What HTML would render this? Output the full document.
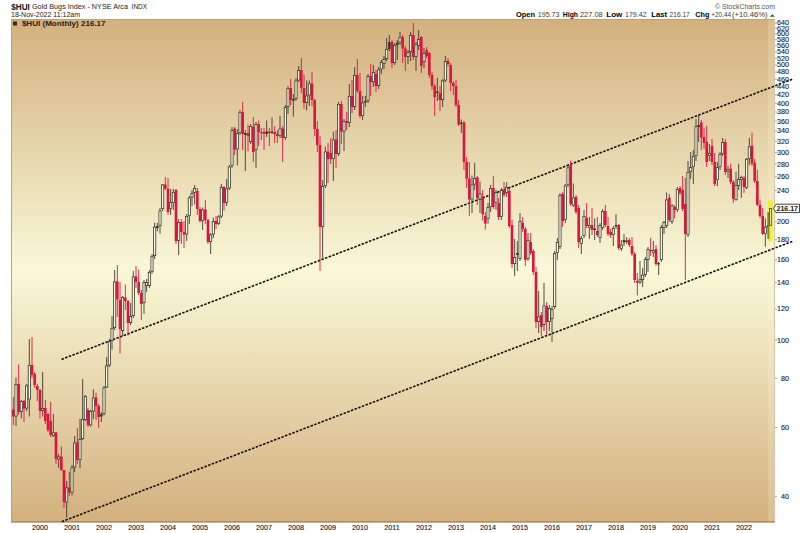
<!DOCTYPE html><html><head><meta charset="utf-8"><style>html,body{margin:0;padding:0;background:#fff;width:800px;height:533px;overflow:hidden}svg{display:block}text{font-family:"Liberation Sans",sans-serif}</style></head><body>
<svg width="800" height="533" viewBox="0 0 800 533">
<defs><linearGradient id="bg" x1="0" y1="0" x2="0" y2="1"><stop offset="0" stop-color="#D3B07E"/><stop offset="0.5" stop-color="#F9F8D7"/><stop offset="1" stop-color="#D3B07E"/></linearGradient></defs>
<rect x="0" y="0" width="800" height="533" fill="#fff"/>
<rect x="11" y="19" width="764" height="503.5" fill="url(#bg)"/>
<rect x="11.5" y="19.5" width="763" height="502.5" fill="none" stroke="#b4a488" stroke-width="1"/>
<line x1="11" y1="521.7" x2="775" y2="521.7" stroke="#b08c60" stroke-width="1.2"/>
<text x="11.3" y="9.6" font-size="9.2" font-weight="bold" textLength="18.5" lengthAdjust="spacingAndGlyphs" fill="#111">$HUI</text>
<text x="32" y="9.2" font-size="7.4" textLength="96" lengthAdjust="spacingAndGlyphs" fill="#222">Gold Bugs Index - NYSE Arca</text>
<text x="131.6" y="9.0" font-size="6.8" textLength="15.4" lengthAdjust="spacingAndGlyphs" fill="#222">INDX</text>
<text x="11" y="17.3" font-size="7" textLength="69" lengthAdjust="spacingAndGlyphs" fill="#222">18-Nov-2022 11:12am</text>
<text x="715" y="9.2" font-size="7" textLength="60" lengthAdjust="spacingAndGlyphs" fill="#555">© StockCharts.com</text>
<text x="515.9" y="17.4" font-size="7.9" font-weight="bold" textLength="19.1" lengthAdjust="spacingAndGlyphs" fill="#000">Open</text>
<text x="537.8" y="17.4" font-size="7.2"  textLength="21.6" lengthAdjust="spacingAndGlyphs" fill="#3a3a3a">195.73</text>
<text x="562.8" y="17.4" font-size="7.9" font-weight="bold" textLength="15.2" lengthAdjust="spacingAndGlyphs" fill="#000">High</text>
<text x="580" y="17.4" font-size="7.2"  textLength="22.6" lengthAdjust="spacingAndGlyphs" fill="#3a3a3a">227.08</text>
<text x="606.3" y="17.4" font-size="7.9" font-weight="bold" textLength="16.0" lengthAdjust="spacingAndGlyphs" fill="#000">Low</text>
<text x="625" y="17.4" font-size="7.2"  textLength="21.6" lengthAdjust="spacingAndGlyphs" fill="#3a3a3a">179.42</text>
<text x="651.3" y="17.4" font-size="7.9" font-weight="bold" textLength="15.9" lengthAdjust="spacingAndGlyphs" fill="#000">Last</text>
<text x="669.6" y="17.4" font-size="7.2"  textLength="20.1" lengthAdjust="spacingAndGlyphs" fill="#3a3a3a">216.17</text>
<text x="695.3" y="17.4" font-size="7.9" font-weight="bold" textLength="14.1" lengthAdjust="spacingAndGlyphs" fill="#000">Chg</text>
<text x="711.3" y="17.4" font-size="7.2"  textLength="19.7" lengthAdjust="spacingAndGlyphs" fill="#3a3a3a">+20.44</text>
<text x="732" y="17.4" font-size="7.2"  textLength="35.6" lengthAdjust="spacingAndGlyphs" fill="#3a3a3a">(+10.46%)</text>
<path d="M769.8 16.8 L772.3 14.3 L774.8 16.8 Z" fill="#1a6a1a"/>
<rect x="13" y="21.5" width="4" height="4" fill="#3a2a10"/>
<text x="21.9" y="26.1" font-size="8" font-weight="bold" textLength="83.7" lengthAdjust="spacingAndGlyphs" fill="#2a2010">$HUI (Monthly) 216.17</text>
<rect x="768" y="20" width="6.3" height="501.3" fill="#fffad0" opacity="0.2"/>
<line x1="775" y1="22.90" x2="777" y2="22.90" stroke="#777" stroke-width="0.7"/>
<text x="789" y="25.30" font-size="7.2" text-anchor="end" fill="#1a1a1a" stroke="#1a1a1a" stroke-width="0.12">640</text>
<line x1="775" y1="28.33" x2="777" y2="28.33" stroke="#777" stroke-width="0.7"/>
<text x="789" y="30.73" font-size="7.2" text-anchor="end" fill="#1a1a1a" stroke="#1a1a1a" stroke-width="0.12">620</text>
<line x1="775" y1="33.93" x2="777" y2="33.93" stroke="#777" stroke-width="0.7"/>
<text x="789" y="36.33" font-size="7.2" text-anchor="end" fill="#1a1a1a" stroke="#1a1a1a" stroke-width="0.12">600</text>
<line x1="775" y1="39.72" x2="777" y2="39.72" stroke="#777" stroke-width="0.7"/>
<text x="789" y="42.12" font-size="7.2" text-anchor="end" fill="#1a1a1a" stroke="#1a1a1a" stroke-width="0.12">580</text>
<line x1="775" y1="45.72" x2="777" y2="45.72" stroke="#777" stroke-width="0.7"/>
<text x="789" y="48.12" font-size="7.2" text-anchor="end" fill="#1a1a1a" stroke="#1a1a1a" stroke-width="0.12">560</text>
<line x1="775" y1="51.94" x2="777" y2="51.94" stroke="#777" stroke-width="0.7"/>
<text x="789" y="54.34" font-size="7.2" text-anchor="end" fill="#1a1a1a" stroke="#1a1a1a" stroke-width="0.12">540</text>
<line x1="775" y1="58.39" x2="777" y2="58.39" stroke="#777" stroke-width="0.7"/>
<text x="789" y="60.79" font-size="7.2" text-anchor="end" fill="#1a1a1a" stroke="#1a1a1a" stroke-width="0.12">520</text>
<line x1="775" y1="65.09" x2="777" y2="65.09" stroke="#777" stroke-width="0.7"/>
<text x="789" y="67.49" font-size="7.2" text-anchor="end" fill="#1a1a1a" stroke="#1a1a1a" stroke-width="0.12">500</text>
<line x1="775" y1="72.06" x2="777" y2="72.06" stroke="#777" stroke-width="0.7"/>
<text x="789" y="74.46" font-size="7.2" text-anchor="end" fill="#1a1a1a" stroke="#1a1a1a" stroke-width="0.12">480</text>
<line x1="775" y1="79.34" x2="777" y2="79.34" stroke="#777" stroke-width="0.7"/>
<text x="789" y="81.74" font-size="7.2" text-anchor="end" fill="#1a1a1a" stroke="#1a1a1a" stroke-width="0.12">460</text>
<line x1="775" y1="86.94" x2="777" y2="86.94" stroke="#777" stroke-width="0.7"/>
<text x="789" y="89.34" font-size="7.2" text-anchor="end" fill="#1a1a1a" stroke="#1a1a1a" stroke-width="0.12">440</text>
<line x1="775" y1="94.89" x2="777" y2="94.89" stroke="#777" stroke-width="0.7"/>
<text x="789" y="97.29" font-size="7.2" text-anchor="end" fill="#1a1a1a" stroke="#1a1a1a" stroke-width="0.12">420</text>
<line x1="775" y1="103.22" x2="777" y2="103.22" stroke="#777" stroke-width="0.7"/>
<text x="789" y="105.62" font-size="7.2" text-anchor="end" fill="#1a1a1a" stroke="#1a1a1a" stroke-width="0.12">400</text>
<line x1="775" y1="111.99" x2="777" y2="111.99" stroke="#777" stroke-width="0.7"/>
<text x="789" y="114.39" font-size="7.2" text-anchor="end" fill="#1a1a1a" stroke="#1a1a1a" stroke-width="0.12">380</text>
<line x1="775" y1="121.23" x2="777" y2="121.23" stroke="#777" stroke-width="0.7"/>
<text x="789" y="123.63" font-size="7.2" text-anchor="end" fill="#1a1a1a" stroke="#1a1a1a" stroke-width="0.12">360</text>
<line x1="775" y1="131.00" x2="777" y2="131.00" stroke="#777" stroke-width="0.7"/>
<text x="789" y="133.40" font-size="7.2" text-anchor="end" fill="#1a1a1a" stroke="#1a1a1a" stroke-width="0.12">340</text>
<line x1="775" y1="141.36" x2="777" y2="141.36" stroke="#777" stroke-width="0.7"/>
<text x="789" y="143.76" font-size="7.2" text-anchor="end" fill="#1a1a1a" stroke="#1a1a1a" stroke-width="0.12">320</text>
<line x1="775" y1="152.39" x2="777" y2="152.39" stroke="#777" stroke-width="0.7"/>
<text x="789" y="154.79" font-size="7.2" text-anchor="end" fill="#1a1a1a" stroke="#1a1a1a" stroke-width="0.12">300</text>
<line x1="775" y1="164.18" x2="777" y2="164.18" stroke="#777" stroke-width="0.7"/>
<text x="789" y="166.58" font-size="7.2" text-anchor="end" fill="#1a1a1a" stroke="#1a1a1a" stroke-width="0.12">280</text>
<line x1="775" y1="176.84" x2="777" y2="176.84" stroke="#777" stroke-width="0.7"/>
<text x="789" y="179.24" font-size="7.2" text-anchor="end" fill="#1a1a1a" stroke="#1a1a1a" stroke-width="0.12">260</text>
<line x1="775" y1="190.52" x2="777" y2="190.52" stroke="#777" stroke-width="0.7"/>
<text x="789" y="192.92" font-size="7.2" text-anchor="end" fill="#1a1a1a" stroke="#1a1a1a" stroke-width="0.12">240</text>
<line x1="775" y1="221.68" x2="777" y2="221.68" stroke="#777" stroke-width="0.7"/>
<text x="789" y="224.08" font-size="7.2" text-anchor="end" fill="#1a1a1a" stroke="#1a1a1a" stroke-width="0.12">200</text>
<line x1="775" y1="239.69" x2="777" y2="239.69" stroke="#777" stroke-width="0.7"/>
<text x="789" y="242.09" font-size="7.2" text-anchor="end" fill="#1a1a1a" stroke="#1a1a1a" stroke-width="0.12">180</text>
<line x1="775" y1="259.82" x2="777" y2="259.82" stroke="#777" stroke-width="0.7"/>
<text x="789" y="262.22" font-size="7.2" text-anchor="end" fill="#1a1a1a" stroke="#1a1a1a" stroke-width="0.12">160</text>
<line x1="775" y1="282.64" x2="777" y2="282.64" stroke="#777" stroke-width="0.7"/>
<text x="789" y="285.04" font-size="7.2" text-anchor="end" fill="#1a1a1a" stroke="#1a1a1a" stroke-width="0.12">140</text>
<line x1="775" y1="308.98" x2="777" y2="308.98" stroke="#777" stroke-width="0.7"/>
<text x="789" y="311.38" font-size="7.2" text-anchor="end" fill="#1a1a1a" stroke="#1a1a1a" stroke-width="0.12">120</text>
<line x1="775" y1="340.14" x2="777" y2="340.14" stroke="#777" stroke-width="0.7"/>
<text x="789" y="342.54" font-size="7.2" text-anchor="end" fill="#1a1a1a" stroke="#1a1a1a" stroke-width="0.12">100</text>
<line x1="775" y1="378.28" x2="777" y2="378.28" stroke="#777" stroke-width="0.7"/>
<text x="789" y="380.68" font-size="7.2" text-anchor="end" fill="#1a1a1a" stroke="#1a1a1a" stroke-width="0.12">80</text>
<line x1="775" y1="427.44" x2="777" y2="427.44" stroke="#777" stroke-width="0.7"/>
<text x="789" y="429.84" font-size="7.2" text-anchor="end" fill="#1a1a1a" stroke="#1a1a1a" stroke-width="0.12">60</text>
<line x1="775" y1="496.74" x2="777" y2="496.74" stroke="#777" stroke-width="0.7"/>
<text x="789" y="499.14" font-size="7.2" text-anchor="end" fill="#1a1a1a" stroke="#1a1a1a" stroke-width="0.12">40</text>
<text x="40.10" y="529.6" font-size="7.2" text-anchor="middle" fill="#1a1a1a" stroke="#1a1a1a" stroke-width="0.12">2000</text>
<text x="72.10" y="529.6" font-size="7.2" text-anchor="middle" fill="#1a1a1a" stroke="#1a1a1a" stroke-width="0.12">2001</text>
<text x="104.10" y="529.6" font-size="7.2" text-anchor="middle" fill="#1a1a1a" stroke="#1a1a1a" stroke-width="0.12">2002</text>
<text x="136.10" y="529.6" font-size="7.2" text-anchor="middle" fill="#1a1a1a" stroke="#1a1a1a" stroke-width="0.12">2003</text>
<text x="168.10" y="529.6" font-size="7.2" text-anchor="middle" fill="#1a1a1a" stroke="#1a1a1a" stroke-width="0.12">2004</text>
<text x="200.10" y="529.6" font-size="7.2" text-anchor="middle" fill="#1a1a1a" stroke="#1a1a1a" stroke-width="0.12">2005</text>
<text x="232.10" y="529.6" font-size="7.2" text-anchor="middle" fill="#1a1a1a" stroke="#1a1a1a" stroke-width="0.12">2006</text>
<text x="264.10" y="529.6" font-size="7.2" text-anchor="middle" fill="#1a1a1a" stroke="#1a1a1a" stroke-width="0.12">2007</text>
<text x="296.10" y="529.6" font-size="7.2" text-anchor="middle" fill="#1a1a1a" stroke="#1a1a1a" stroke-width="0.12">2008</text>
<text x="328.10" y="529.6" font-size="7.2" text-anchor="middle" fill="#1a1a1a" stroke="#1a1a1a" stroke-width="0.12">2009</text>
<text x="360.10" y="529.6" font-size="7.2" text-anchor="middle" fill="#1a1a1a" stroke="#1a1a1a" stroke-width="0.12">2010</text>
<text x="392.10" y="529.6" font-size="7.2" text-anchor="middle" fill="#1a1a1a" stroke="#1a1a1a" stroke-width="0.12">2011</text>
<text x="424.10" y="529.6" font-size="7.2" text-anchor="middle" fill="#1a1a1a" stroke="#1a1a1a" stroke-width="0.12">2012</text>
<text x="456.10" y="529.6" font-size="7.2" text-anchor="middle" fill="#1a1a1a" stroke="#1a1a1a" stroke-width="0.12">2013</text>
<text x="488.10" y="529.6" font-size="7.2" text-anchor="middle" fill="#1a1a1a" stroke="#1a1a1a" stroke-width="0.12">2014</text>
<text x="520.10" y="529.6" font-size="7.2" text-anchor="middle" fill="#1a1a1a" stroke="#1a1a1a" stroke-width="0.12">2015</text>
<text x="552.10" y="529.6" font-size="7.2" text-anchor="middle" fill="#1a1a1a" stroke="#1a1a1a" stroke-width="0.12">2016</text>
<text x="584.10" y="529.6" font-size="7.2" text-anchor="middle" fill="#1a1a1a" stroke="#1a1a1a" stroke-width="0.12">2017</text>
<text x="616.10" y="529.6" font-size="7.2" text-anchor="middle" fill="#1a1a1a" stroke="#1a1a1a" stroke-width="0.12">2018</text>
<text x="648.10" y="529.6" font-size="7.2" text-anchor="middle" fill="#1a1a1a" stroke="#1a1a1a" stroke-width="0.12">2019</text>
<text x="680.10" y="529.6" font-size="7.2" text-anchor="middle" fill="#1a1a1a" stroke="#1a1a1a" stroke-width="0.12">2020</text>
<text x="712.10" y="529.6" font-size="7.2" text-anchor="middle" fill="#1a1a1a" stroke="#1a1a1a" stroke-width="0.12">2021</text>
<text x="744.10" y="529.6" font-size="7.2" text-anchor="middle" fill="#1a1a1a" stroke="#1a1a1a" stroke-width="0.12">2022</text>
<line x1="61.75" y1="521.65" x2="792.3" y2="241.4" stroke="#141008" stroke-width="1.6" stroke-dasharray="2.5,1.42"/>
<line x1="61.5" y1="359.4" x2="792.3" y2="79.2" stroke="#141008" stroke-width="1.6" stroke-dasharray="2.5,1.42"/>
<line x1="13.33" y1="397" x2="13.33" y2="425" stroke="#DC143C" stroke-width="0.9"/>
<rect x="12.03" y="409.5" width="2.6" height="7.00" fill="#DC143C"/>
<line x1="16.00" y1="377.5" x2="16.00" y2="426" stroke="#3c3a2c" stroke-width="0.9"/>
<rect x="14.90" y="384.40" width="2.2" height="31.70" fill="#faf6e6" stroke="#3c3a2c" stroke-width="0.8"/>
<line x1="18.66" y1="364.5" x2="18.66" y2="415" stroke="#DC143C" stroke-width="0.9"/>
<rect x="17.36" y="384" width="2.6" height="28.00" fill="#DC143C"/>
<line x1="21.33" y1="400" x2="21.33" y2="418.5" stroke="#3c3a2c" stroke-width="0.9"/>
<rect x="20.23" y="401.40" width="2.2" height="10.20" fill="#faf6e6" stroke="#3c3a2c" stroke-width="0.8"/>
<line x1="24.00" y1="400" x2="24.00" y2="422" stroke="#DC143C" stroke-width="0.9"/>
<rect x="22.70" y="401" width="2.6" height="7.50" fill="#DC143C"/>
<line x1="26.66" y1="384" x2="26.66" y2="411" stroke="#3c3a2c" stroke-width="0.9"/>
<rect x="25.56" y="385.90" width="2.2" height="22.20" fill="#faf6e6" stroke="#3c3a2c" stroke-width="0.8"/>
<line x1="29.33" y1="339" x2="29.33" y2="416.5" stroke="#3c3a2c" stroke-width="0.9"/>
<rect x="28.23" y="365.40" width="2.2" height="33.70" fill="#faf6e6" stroke="#3c3a2c" stroke-width="0.8"/>
<line x1="32.00" y1="337" x2="32.00" y2="378" stroke="#DC143C" stroke-width="0.9"/>
<rect x="30.70" y="365" width="2.6" height="10.00" fill="#DC143C"/>
<line x1="34.66" y1="372" x2="34.66" y2="388" stroke="#DC143C" stroke-width="0.9"/>
<rect x="33.36" y="374" width="2.6" height="11.00" fill="#DC143C"/>
<line x1="37.33" y1="384" x2="37.33" y2="401" stroke="#DC143C" stroke-width="0.9"/>
<rect x="36.03" y="386" width="2.6" height="4.00" fill="#DC143C"/>
<line x1="40.00" y1="389" x2="40.00" y2="418.5" stroke="#DC143C" stroke-width="0.9"/>
<rect x="38.70" y="390" width="2.6" height="21.00" fill="#DC143C"/>
<line x1="42.66" y1="372" x2="42.66" y2="416.5" stroke="#3c3a2c" stroke-width="0.9"/>
<rect x="41.56" y="408.40" width="2.2" height="2.20" fill="#faf6e6" stroke="#3c3a2c" stroke-width="0.8"/>
<line x1="45.33" y1="400" x2="45.33" y2="424" stroke="#DC143C" stroke-width="0.9"/>
<rect x="44.03" y="408" width="2.6" height="13.00" fill="#DC143C"/>
<line x1="48.00" y1="413" x2="48.00" y2="432" stroke="#DC143C" stroke-width="0.9"/>
<rect x="46.70" y="414" width="2.6" height="16.00" fill="#DC143C"/>
<line x1="50.66" y1="402" x2="50.66" y2="437" stroke="#DC143C" stroke-width="0.9"/>
<rect x="49.36" y="421" width="2.6" height="14.00" fill="#DC143C"/>
<line x1="53.33" y1="414" x2="53.33" y2="437" stroke="#3c3a2c" stroke-width="0.9"/>
<rect x="52.23" y="432.90" width="2.2" height="2.70" fill="#faf6e6" stroke="#3c3a2c" stroke-width="0.8"/>
<line x1="56.00" y1="432" x2="56.00" y2="464" stroke="#DC143C" stroke-width="0.9"/>
<rect x="54.70" y="432.5" width="2.6" height="26.50" fill="#DC143C"/>
<line x1="58.66" y1="454" x2="58.66" y2="468" stroke="#3c3a2c" stroke-width="0.9"/>
<rect x="57.56" y="456.90" width="2.2" height="2.20" fill="#faf6e6" stroke="#3c3a2c" stroke-width="0.8"/>
<line x1="61.33" y1="446.5" x2="61.33" y2="471" stroke="#DC143C" stroke-width="0.9"/>
<rect x="60.03" y="456.5" width="2.6" height="13.50" fill="#DC143C"/>
<line x1="64.00" y1="470" x2="64.00" y2="508" stroke="#DC143C" stroke-width="0.9"/>
<rect x="62.70" y="470" width="2.6" height="32.00" fill="#DC143C"/>
<line x1="66.66" y1="481" x2="66.66" y2="517.5" stroke="#3c3a2c" stroke-width="0.9"/>
<rect x="65.56" y="487.90" width="2.2" height="14.20" fill="#faf6e6" stroke="#3c3a2c" stroke-width="0.8"/>
<line x1="69.33" y1="472" x2="69.33" y2="496" stroke="#DC143C" stroke-width="0.9"/>
<rect x="68.03" y="487.5" width="2.6" height="5.00" fill="#DC143C"/>
<line x1="72.00" y1="465" x2="72.00" y2="495.5" stroke="#3c3a2c" stroke-width="0.9"/>
<rect x="70.90" y="467.90" width="2.2" height="24.20" fill="#faf6e6" stroke="#3c3a2c" stroke-width="0.8"/>
<line x1="74.66" y1="436" x2="74.66" y2="472" stroke="#3c3a2c" stroke-width="0.9"/>
<rect x="73.56" y="442.90" width="2.2" height="24.20" fill="#faf6e6" stroke="#3c3a2c" stroke-width="0.8"/>
<line x1="77.33" y1="428" x2="77.33" y2="464" stroke="#DC143C" stroke-width="0.9"/>
<rect x="76.03" y="442.5" width="2.6" height="17.50" fill="#DC143C"/>
<line x1="80.00" y1="419" x2="80.00" y2="468" stroke="#3c3a2c" stroke-width="0.9"/>
<rect x="78.90" y="439.40" width="2.2" height="20.20" fill="#faf6e6" stroke="#3c3a2c" stroke-width="0.8"/>
<line x1="82.66" y1="379" x2="82.66" y2="440" stroke="#3c3a2c" stroke-width="0.9"/>
<rect x="81.56" y="419.40" width="2.2" height="19.20" fill="#faf6e6" stroke="#3c3a2c" stroke-width="0.8"/>
<line x1="85.33" y1="395" x2="85.33" y2="421" stroke="#3c3a2c" stroke-width="0.9"/>
<rect x="84.23" y="396.40" width="2.2" height="23.20" fill="#faf6e6" stroke="#3c3a2c" stroke-width="0.8"/>
<line x1="88.00" y1="408" x2="88.00" y2="427" stroke="#DC143C" stroke-width="0.9"/>
<rect x="86.70" y="410" width="2.6" height="15.00" fill="#DC143C"/>
<line x1="90.66" y1="410" x2="90.66" y2="426.6" stroke="#3c3a2c" stroke-width="0.9"/>
<rect x="89.56" y="411.40" width="2.2" height="13.60" fill="#faf6e6" stroke="#3c3a2c" stroke-width="0.8"/>
<line x1="93.33" y1="389.5" x2="93.33" y2="419" stroke="#3c3a2c" stroke-width="0.9"/>
<rect x="92.23" y="397.90" width="2.2" height="13.20" fill="#faf6e6" stroke="#3c3a2c" stroke-width="0.8"/>
<line x1="96.00" y1="392.5" x2="96.00" y2="420" stroke="#DC143C" stroke-width="0.9"/>
<rect x="94.70" y="397.5" width="2.6" height="8.50" fill="#DC143C"/>
<line x1="98.66" y1="404" x2="98.66" y2="428" stroke="#DC143C" stroke-width="0.9"/>
<rect x="97.36" y="406" width="2.6" height="11.00" fill="#DC143C"/>
<line x1="101.33" y1="412" x2="101.33" y2="422" stroke="#3c3a2c" stroke-width="0.9"/>
<rect x="100.03" y="414" width="2.6" height="2.50" fill="#3c3a2c"/>
<line x1="104.00" y1="386" x2="104.00" y2="415.5" stroke="#3c3a2c" stroke-width="0.9"/>
<rect x="102.90" y="387.90" width="2.2" height="25.70" fill="#faf6e6" stroke="#3c3a2c" stroke-width="0.8"/>
<line x1="106.66" y1="357" x2="106.66" y2="388" stroke="#3c3a2c" stroke-width="0.9"/>
<rect x="105.56" y="365.90" width="2.2" height="21.20" fill="#faf6e6" stroke="#3c3a2c" stroke-width="0.8"/>
<line x1="109.33" y1="339" x2="109.33" y2="367" stroke="#3c3a2c" stroke-width="0.9"/>
<rect x="108.23" y="341.40" width="2.2" height="23.70" fill="#faf6e6" stroke="#3c3a2c" stroke-width="0.8"/>
<line x1="112.00" y1="316" x2="112.00" y2="349.5" stroke="#3c3a2c" stroke-width="0.9"/>
<rect x="110.90" y="328.40" width="2.2" height="12.20" fill="#faf6e6" stroke="#3c3a2c" stroke-width="0.8"/>
<line x1="114.66" y1="270" x2="114.66" y2="330" stroke="#3c3a2c" stroke-width="0.9"/>
<rect x="113.56" y="281.90" width="2.2" height="45.70" fill="#faf6e6" stroke="#3c3a2c" stroke-width="0.8"/>
<line x1="117.33" y1="265" x2="117.33" y2="317" stroke="#DC143C" stroke-width="0.9"/>
<rect x="116.03" y="281.5" width="2.6" height="18.00" fill="#DC143C"/>
<line x1="120.00" y1="282" x2="120.00" y2="353.5" stroke="#DC143C" stroke-width="0.9"/>
<rect x="118.70" y="300" width="2.6" height="29.00" fill="#DC143C"/>
<line x1="122.66" y1="296" x2="122.66" y2="336" stroke="#3c3a2c" stroke-width="0.9"/>
<rect x="121.56" y="297.40" width="2.2" height="33.20" fill="#faf6e6" stroke="#3c3a2c" stroke-width="0.8"/>
<line x1="125.33" y1="284.5" x2="125.33" y2="310" stroke="#DC143C" stroke-width="0.9"/>
<rect x="124.03" y="297.5" width="2.6" height="3.50" fill="#DC143C"/>
<line x1="128.00" y1="300" x2="128.00" y2="335.5" stroke="#DC143C" stroke-width="0.9"/>
<rect x="126.70" y="301" width="2.6" height="22.00" fill="#DC143C"/>
<line x1="130.66" y1="303" x2="130.66" y2="325" stroke="#3c3a2c" stroke-width="0.9"/>
<rect x="129.56" y="316.40" width="2.2" height="6.20" fill="#faf6e6" stroke="#3c3a2c" stroke-width="0.8"/>
<line x1="133.33" y1="271" x2="133.33" y2="318" stroke="#3c3a2c" stroke-width="0.9"/>
<rect x="132.23" y="276.90" width="2.2" height="38.70" fill="#faf6e6" stroke="#3c3a2c" stroke-width="0.8"/>
<line x1="136.00" y1="266" x2="136.00" y2="288" stroke="#DC143C" stroke-width="0.9"/>
<rect x="134.70" y="276.5" width="2.6" height="5.50" fill="#DC143C"/>
<line x1="138.66" y1="269.5" x2="138.66" y2="295" stroke="#DC143C" stroke-width="0.9"/>
<rect x="137.36" y="282" width="2.6" height="11.00" fill="#DC143C"/>
<line x1="141.33" y1="290" x2="141.33" y2="320" stroke="#DC143C" stroke-width="0.9"/>
<rect x="140.03" y="293" width="2.6" height="11.00" fill="#DC143C"/>
<line x1="144.00" y1="280" x2="144.00" y2="314" stroke="#3c3a2c" stroke-width="0.9"/>
<rect x="142.90" y="282.40" width="2.2" height="20.20" fill="#faf6e6" stroke="#3c3a2c" stroke-width="0.8"/>
<line x1="146.67" y1="279" x2="146.67" y2="292" stroke="#3c3a2c" stroke-width="0.9"/>
<rect x="145.57" y="282.40" width="2.2" height="3.20" fill="#faf6e6" stroke="#3c3a2c" stroke-width="0.8"/>
<line x1="149.33" y1="270" x2="149.33" y2="288" stroke="#3c3a2c" stroke-width="0.9"/>
<rect x="148.23" y="272.40" width="2.2" height="13.20" fill="#faf6e6" stroke="#3c3a2c" stroke-width="0.8"/>
<line x1="152.00" y1="254" x2="152.00" y2="274" stroke="#3c3a2c" stroke-width="0.9"/>
<rect x="150.90" y="256.40" width="2.2" height="15.20" fill="#faf6e6" stroke="#3c3a2c" stroke-width="0.8"/>
<line x1="154.67" y1="222.7" x2="154.67" y2="259" stroke="#3c3a2c" stroke-width="0.9"/>
<rect x="153.57" y="227.10" width="2.2" height="28.50" fill="#faf6e6" stroke="#3c3a2c" stroke-width="0.8"/>
<line x1="157.33" y1="223" x2="157.33" y2="231.4" stroke="#3c3a2c" stroke-width="0.9"/>
<rect x="156.03" y="226" width="2.6" height="2.00" fill="#3c3a2c"/>
<line x1="160.00" y1="208" x2="160.00" y2="233.7" stroke="#3c3a2c" stroke-width="0.9"/>
<rect x="158.90" y="210.90" width="2.2" height="14.70" fill="#faf6e6" stroke="#3c3a2c" stroke-width="0.8"/>
<line x1="162.67" y1="184" x2="162.67" y2="211" stroke="#3c3a2c" stroke-width="0.9"/>
<rect x="161.57" y="184.90" width="2.2" height="23.70" fill="#faf6e6" stroke="#3c3a2c" stroke-width="0.8"/>
<line x1="165.33" y1="177" x2="165.33" y2="190" stroke="#DC143C" stroke-width="0.9"/>
<rect x="164.03" y="184.5" width="2.6" height="4.10" fill="#DC143C"/>
<line x1="168.00" y1="178" x2="168.00" y2="214.8" stroke="#DC143C" stroke-width="0.9"/>
<rect x="166.70" y="188.6" width="2.6" height="23.40" fill="#DC143C"/>
<line x1="170.67" y1="189" x2="170.67" y2="215" stroke="#3c3a2c" stroke-width="0.9"/>
<rect x="169.57" y="202.40" width="2.2" height="6.20" fill="#faf6e6" stroke="#3c3a2c" stroke-width="0.8"/>
<line x1="173.33" y1="189" x2="173.33" y2="210" stroke="#3c3a2c" stroke-width="0.9"/>
<rect x="172.23" y="192.40" width="2.2" height="10.20" fill="#faf6e6" stroke="#3c3a2c" stroke-width="0.8"/>
<line x1="176.00" y1="189" x2="176.00" y2="244" stroke="#DC143C" stroke-width="0.9"/>
<rect x="174.70" y="190" width="2.6" height="51.00" fill="#DC143C"/>
<line x1="178.67" y1="219" x2="178.67" y2="255" stroke="#3c3a2c" stroke-width="0.9"/>
<rect x="177.57" y="222.40" width="2.2" height="18.20" fill="#faf6e6" stroke="#3c3a2c" stroke-width="0.8"/>
<line x1="181.33" y1="219" x2="181.33" y2="244" stroke="#DC143C" stroke-width="0.9"/>
<rect x="180.03" y="222" width="2.6" height="10.00" fill="#DC143C"/>
<line x1="184.00" y1="221" x2="184.00" y2="248" stroke="#DC143C" stroke-width="0.9"/>
<rect x="182.70" y="232" width="2.6" height="2.50" fill="#DC143C"/>
<line x1="186.67" y1="214" x2="186.67" y2="241" stroke="#3c3a2c" stroke-width="0.9"/>
<rect x="185.57" y="216.40" width="2.2" height="17.70" fill="#faf6e6" stroke="#3c3a2c" stroke-width="0.8"/>
<line x1="189.33" y1="196" x2="189.33" y2="224" stroke="#3c3a2c" stroke-width="0.9"/>
<rect x="188.23" y="197.90" width="2.2" height="17.70" fill="#faf6e6" stroke="#3c3a2c" stroke-width="0.8"/>
<line x1="192.00" y1="190" x2="192.00" y2="206" stroke="#3c3a2c" stroke-width="0.9"/>
<rect x="190.90" y="193.40" width="2.2" height="3.70" fill="#faf6e6" stroke="#3c3a2c" stroke-width="0.8"/>
<line x1="194.67" y1="185" x2="194.67" y2="204.5" stroke="#3c3a2c" stroke-width="0.9"/>
<rect x="193.57" y="188.40" width="2.2" height="4.20" fill="#faf6e6" stroke="#3c3a2c" stroke-width="0.8"/>
<line x1="197.33" y1="188" x2="197.33" y2="215" stroke="#DC143C" stroke-width="0.9"/>
<rect x="196.03" y="191" width="2.6" height="18.00" fill="#DC143C"/>
<line x1="200.00" y1="207" x2="200.00" y2="222.5" stroke="#DC143C" stroke-width="0.9"/>
<rect x="198.70" y="209" width="2.6" height="12.00" fill="#DC143C"/>
<line x1="202.67" y1="207.5" x2="202.67" y2="230" stroke="#3c3a2c" stroke-width="0.9"/>
<rect x="201.57" y="209.90" width="2.2" height="10.70" fill="#faf6e6" stroke="#3c3a2c" stroke-width="0.8"/>
<line x1="205.33" y1="200" x2="205.33" y2="224" stroke="#DC143C" stroke-width="0.9"/>
<rect x="204.03" y="209.5" width="2.6" height="10.50" fill="#DC143C"/>
<line x1="208.00" y1="219" x2="208.00" y2="244" stroke="#DC143C" stroke-width="0.9"/>
<rect x="206.70" y="220" width="2.6" height="22.00" fill="#DC143C"/>
<line x1="210.67" y1="233" x2="210.67" y2="254" stroke="#3c3a2c" stroke-width="0.9"/>
<rect x="209.57" y="234.90" width="2.2" height="6.70" fill="#faf6e6" stroke="#3c3a2c" stroke-width="0.8"/>
<line x1="213.33" y1="217.5" x2="213.33" y2="238" stroke="#3c3a2c" stroke-width="0.9"/>
<rect x="212.23" y="221.40" width="2.2" height="12.70" fill="#faf6e6" stroke="#3c3a2c" stroke-width="0.8"/>
<line x1="216.00" y1="216" x2="216.00" y2="229" stroke="#DC143C" stroke-width="0.9"/>
<rect x="214.70" y="221" width="2.6" height="3.00" fill="#DC143C"/>
<line x1="218.67" y1="215" x2="218.67" y2="225" stroke="#3c3a2c" stroke-width="0.9"/>
<rect x="217.57" y="216.90" width="2.2" height="6.70" fill="#faf6e6" stroke="#3c3a2c" stroke-width="0.8"/>
<line x1="221.33" y1="184" x2="221.33" y2="218" stroke="#3c3a2c" stroke-width="0.9"/>
<rect x="220.23" y="187.40" width="2.2" height="28.70" fill="#faf6e6" stroke="#3c3a2c" stroke-width="0.8"/>
<line x1="224.00" y1="186" x2="224.00" y2="210.5" stroke="#DC143C" stroke-width="0.9"/>
<rect x="222.70" y="187" width="2.6" height="16.00" fill="#DC143C"/>
<line x1="226.67" y1="179" x2="226.67" y2="206" stroke="#3c3a2c" stroke-width="0.9"/>
<rect x="225.57" y="188.90" width="2.2" height="13.70" fill="#faf6e6" stroke="#3c3a2c" stroke-width="0.8"/>
<line x1="229.33" y1="165" x2="229.33" y2="190" stroke="#3c3a2c" stroke-width="0.9"/>
<rect x="228.23" y="166.90" width="2.2" height="21.20" fill="#faf6e6" stroke="#3c3a2c" stroke-width="0.8"/>
<line x1="232.00" y1="127" x2="232.00" y2="168" stroke="#3c3a2c" stroke-width="0.9"/>
<rect x="230.90" y="130.40" width="2.2" height="35.20" fill="#faf6e6" stroke="#3c3a2c" stroke-width="0.8"/>
<line x1="234.67" y1="127" x2="234.67" y2="155" stroke="#DC143C" stroke-width="0.9"/>
<rect x="233.37" y="128.5" width="2.6" height="21.00" fill="#DC143C"/>
<line x1="237.33" y1="129" x2="237.33" y2="165.5" stroke="#3c3a2c" stroke-width="0.9"/>
<rect x="236.23" y="133.40" width="2.2" height="15.70" fill="#faf6e6" stroke="#3c3a2c" stroke-width="0.8"/>
<line x1="240.00" y1="110" x2="240.00" y2="135" stroke="#3c3a2c" stroke-width="0.9"/>
<rect x="238.90" y="112.40" width="2.2" height="20.20" fill="#faf6e6" stroke="#3c3a2c" stroke-width="0.8"/>
<line x1="242.67" y1="102" x2="242.67" y2="150" stroke="#DC143C" stroke-width="0.9"/>
<rect x="241.37" y="112" width="2.6" height="22.00" fill="#DC143C"/>
<line x1="245.33" y1="130" x2="245.33" y2="171" stroke="#3c3a2c" stroke-width="0.9"/>
<rect x="244.03" y="133" width="2.6" height="2.00" fill="#3c3a2c"/>
<line x1="248.00" y1="124.5" x2="248.00" y2="151.5" stroke="#DC143C" stroke-width="0.9"/>
<rect x="246.70" y="133" width="2.6" height="3.00" fill="#DC143C"/>
<line x1="250.67" y1="124" x2="250.67" y2="144" stroke="#3c3a2c" stroke-width="0.9"/>
<rect x="249.57" y="126.40" width="2.2" height="15.20" fill="#faf6e6" stroke="#3c3a2c" stroke-width="0.8"/>
<line x1="253.33" y1="117" x2="253.33" y2="162" stroke="#DC143C" stroke-width="0.9"/>
<rect x="252.03" y="127" width="2.6" height="25.00" fill="#DC143C"/>
<line x1="256.00" y1="122" x2="256.00" y2="168" stroke="#3c3a2c" stroke-width="0.9"/>
<rect x="254.90" y="124.40" width="2.2" height="25.20" fill="#faf6e6" stroke="#3c3a2c" stroke-width="0.8"/>
<line x1="258.67" y1="120.5" x2="258.67" y2="146" stroke="#DC143C" stroke-width="0.9"/>
<rect x="257.37" y="124" width="2.6" height="8.00" fill="#DC143C"/>
<line x1="261.33" y1="128" x2="261.33" y2="140" stroke="#DC143C" stroke-width="0.9"/>
<rect x="260.03" y="132" width="2.6" height="1.00" fill="#DC143C"/>
<line x1="264.00" y1="128" x2="264.00" y2="150" stroke="#DC143C" stroke-width="0.9"/>
<rect x="262.70" y="132" width="2.6" height="2.00" fill="#DC143C"/>
<line x1="266.67" y1="120.5" x2="266.67" y2="137" stroke="#3c3a2c" stroke-width="0.9"/>
<rect x="265.37" y="131.5" width="2.6" height="2.50" fill="#3c3a2c"/>
<line x1="269.33" y1="128" x2="269.33" y2="146" stroke="#DC143C" stroke-width="0.9"/>
<rect x="268.03" y="131.5" width="2.6" height="1.50" fill="#DC143C"/>
<line x1="272.00" y1="117.5" x2="272.00" y2="134" stroke="#3c3a2c" stroke-width="0.9"/>
<rect x="270.70" y="131.5" width="2.6" height="1.50" fill="#3c3a2c"/>
<line x1="274.67" y1="126" x2="274.67" y2="143" stroke="#DC143C" stroke-width="0.9"/>
<rect x="273.37" y="132" width="2.6" height="2.00" fill="#DC143C"/>
<line x1="277.33" y1="130" x2="277.33" y2="143" stroke="#DC143C" stroke-width="0.9"/>
<rect x="276.03" y="134" width="2.6" height="2.00" fill="#DC143C"/>
<line x1="280.00" y1="116" x2="280.00" y2="138" stroke="#3c3a2c" stroke-width="0.9"/>
<rect x="278.90" y="128.90" width="2.2" height="6.70" fill="#faf6e6" stroke="#3c3a2c" stroke-width="0.8"/>
<line x1="282.67" y1="126" x2="282.67" y2="162" stroke="#DC143C" stroke-width="0.9"/>
<rect x="281.37" y="128.5" width="2.6" height="9.50" fill="#DC143C"/>
<line x1="285.33" y1="105" x2="285.33" y2="140" stroke="#3c3a2c" stroke-width="0.9"/>
<rect x="284.23" y="107.40" width="2.2" height="30.20" fill="#faf6e6" stroke="#3c3a2c" stroke-width="0.8"/>
<line x1="288.00" y1="86" x2="288.00" y2="114" stroke="#3c3a2c" stroke-width="0.9"/>
<rect x="286.90" y="88.40" width="2.2" height="18.20" fill="#faf6e6" stroke="#3c3a2c" stroke-width="0.8"/>
<line x1="290.67" y1="79" x2="290.67" y2="105" stroke="#DC143C" stroke-width="0.9"/>
<rect x="289.37" y="88" width="2.6" height="12.00" fill="#DC143C"/>
<line x1="293.33" y1="94" x2="293.33" y2="116.5" stroke="#3c3a2c" stroke-width="0.9"/>
<rect x="292.03" y="99" width="2.6" height="1.70" fill="#3c3a2c"/>
<line x1="296.00" y1="78" x2="296.00" y2="101" stroke="#3c3a2c" stroke-width="0.9"/>
<rect x="294.90" y="80.90" width="2.2" height="17.70" fill="#faf6e6" stroke="#3c3a2c" stroke-width="0.8"/>
<line x1="298.67" y1="66" x2="298.67" y2="82" stroke="#3c3a2c" stroke-width="0.9"/>
<rect x="297.57" y="70.40" width="2.2" height="9.70" fill="#faf6e6" stroke="#3c3a2c" stroke-width="0.8"/>
<line x1="301.33" y1="58" x2="301.33" y2="93" stroke="#DC143C" stroke-width="0.9"/>
<rect x="300.03" y="70" width="2.6" height="18.00" fill="#DC143C"/>
<line x1="304.00" y1="74.5" x2="304.00" y2="109" stroke="#DC143C" stroke-width="0.9"/>
<rect x="302.70" y="88" width="2.6" height="15.00" fill="#DC143C"/>
<line x1="306.67" y1="80.5" x2="306.67" y2="110.5" stroke="#3c3a2c" stroke-width="0.9"/>
<rect x="305.57" y="95.90" width="2.2" height="6.70" fill="#faf6e6" stroke="#3c3a2c" stroke-width="0.8"/>
<line x1="309.33" y1="80.5" x2="309.33" y2="106" stroke="#3c3a2c" stroke-width="0.9"/>
<rect x="308.23" y="83.90" width="2.2" height="11.20" fill="#faf6e6" stroke="#3c3a2c" stroke-width="0.8"/>
<line x1="312.00" y1="72" x2="312.00" y2="106" stroke="#DC143C" stroke-width="0.9"/>
<rect x="310.70" y="83.5" width="2.6" height="16.50" fill="#DC143C"/>
<line x1="314.67" y1="99" x2="314.67" y2="136" stroke="#DC143C" stroke-width="0.9"/>
<rect x="313.37" y="100" width="2.6" height="29.00" fill="#DC143C"/>
<line x1="317.33" y1="121" x2="317.33" y2="152" stroke="#DC143C" stroke-width="0.9"/>
<rect x="316.03" y="129" width="2.6" height="16.00" fill="#DC143C"/>
<line x1="320.00" y1="136" x2="320.00" y2="271" stroke="#DC143C" stroke-width="0.9"/>
<rect x="318.70" y="145" width="2.6" height="81.80" fill="#DC143C"/>
<line x1="322.67" y1="180" x2="322.67" y2="258" stroke="#3c3a2c" stroke-width="0.9"/>
<rect x="321.57" y="186.30" width="2.2" height="40.10" fill="#faf6e6" stroke="#3c3a2c" stroke-width="0.8"/>
<line x1="325.33" y1="146.5" x2="325.33" y2="188" stroke="#3c3a2c" stroke-width="0.9"/>
<rect x="324.23" y="151.90" width="2.2" height="33.70" fill="#faf6e6" stroke="#3c3a2c" stroke-width="0.8"/>
<line x1="328.00" y1="143" x2="328.00" y2="183" stroke="#DC143C" stroke-width="0.9"/>
<rect x="326.70" y="151.5" width="2.6" height="7.50" fill="#DC143C"/>
<line x1="330.67" y1="138" x2="330.67" y2="164" stroke="#DC143C" stroke-width="0.9"/>
<rect x="329.37" y="153" width="2.6" height="6.00" fill="#DC143C"/>
<line x1="333.33" y1="131.5" x2="333.33" y2="181" stroke="#3c3a2c" stroke-width="0.9"/>
<rect x="332.23" y="139.90" width="2.2" height="18.70" fill="#faf6e6" stroke="#3c3a2c" stroke-width="0.8"/>
<line x1="336.00" y1="130" x2="336.00" y2="168" stroke="#DC143C" stroke-width="0.9"/>
<rect x="334.70" y="139.5" width="2.6" height="14.50" fill="#DC143C"/>
<line x1="338.67" y1="102" x2="338.67" y2="156" stroke="#3c3a2c" stroke-width="0.9"/>
<rect x="337.57" y="104.40" width="2.2" height="49.20" fill="#faf6e6" stroke="#3c3a2c" stroke-width="0.8"/>
<line x1="341.33" y1="101" x2="341.33" y2="144" stroke="#DC143C" stroke-width="0.9"/>
<rect x="340.03" y="104" width="2.6" height="27.50" fill="#DC143C"/>
<line x1="344.00" y1="119" x2="344.00" y2="151" stroke="#3c3a2c" stroke-width="0.9"/>
<rect x="342.90" y="121.40" width="2.2" height="9.70" fill="#faf6e6" stroke="#3c3a2c" stroke-width="0.8"/>
<line x1="346.67" y1="112" x2="346.67" y2="130" stroke="#DC143C" stroke-width="0.9"/>
<rect x="345.37" y="121" width="2.6" height="2.00" fill="#DC143C"/>
<line x1="349.33" y1="84" x2="349.33" y2="127" stroke="#3c3a2c" stroke-width="0.9"/>
<rect x="348.23" y="96.40" width="2.2" height="26.20" fill="#faf6e6" stroke="#3c3a2c" stroke-width="0.8"/>
<line x1="352.00" y1="80" x2="352.00" y2="113" stroke="#DC143C" stroke-width="0.9"/>
<rect x="350.70" y="96" width="2.6" height="11.00" fill="#DC143C"/>
<line x1="354.67" y1="67" x2="354.67" y2="110" stroke="#3c3a2c" stroke-width="0.9"/>
<rect x="353.57" y="75.40" width="2.2" height="31.20" fill="#faf6e6" stroke="#3c3a2c" stroke-width="0.8"/>
<line x1="357.33" y1="59" x2="357.33" y2="93" stroke="#DC143C" stroke-width="0.9"/>
<rect x="356.03" y="75" width="2.6" height="16.00" fill="#DC143C"/>
<line x1="360.00" y1="73" x2="360.00" y2="118" stroke="#DC143C" stroke-width="0.9"/>
<rect x="358.70" y="91" width="2.6" height="25.00" fill="#DC143C"/>
<line x1="362.67" y1="96" x2="362.67" y2="120" stroke="#3c3a2c" stroke-width="0.9"/>
<rect x="361.57" y="102.90" width="2.2" height="12.70" fill="#faf6e6" stroke="#3c3a2c" stroke-width="0.8"/>
<line x1="365.33" y1="96" x2="365.33" y2="107" stroke="#3c3a2c" stroke-width="0.9"/>
<rect x="364.03" y="101" width="2.6" height="1.50" fill="#3c3a2c"/>
<line x1="368.00" y1="74" x2="368.00" y2="103" stroke="#3c3a2c" stroke-width="0.9"/>
<rect x="366.90" y="76.40" width="2.2" height="24.20" fill="#faf6e6" stroke="#3c3a2c" stroke-width="0.8"/>
<line x1="370.67" y1="64" x2="370.67" y2="96" stroke="#DC143C" stroke-width="0.9"/>
<rect x="369.37" y="76" width="2.6" height="6.00" fill="#DC143C"/>
<line x1="373.33" y1="65" x2="373.33" y2="87" stroke="#3c3a2c" stroke-width="0.9"/>
<rect x="372.23" y="72.40" width="2.2" height="9.20" fill="#faf6e6" stroke="#3c3a2c" stroke-width="0.8"/>
<line x1="376.00" y1="70" x2="376.00" y2="92" stroke="#DC143C" stroke-width="0.9"/>
<rect x="374.70" y="74" width="2.6" height="12.00" fill="#DC143C"/>
<line x1="378.67" y1="67" x2="378.67" y2="89" stroke="#3c3a2c" stroke-width="0.9"/>
<rect x="377.57" y="69.90" width="2.2" height="15.70" fill="#faf6e6" stroke="#3c3a2c" stroke-width="0.8"/>
<line x1="381.33" y1="60" x2="381.33" y2="74" stroke="#3c3a2c" stroke-width="0.9"/>
<rect x="380.23" y="62.40" width="2.2" height="6.70" fill="#faf6e6" stroke="#3c3a2c" stroke-width="0.8"/>
<line x1="384.00" y1="56" x2="384.00" y2="69" stroke="#3c3a2c" stroke-width="0.9"/>
<rect x="382.90" y="59.40" width="2.2" height="4.20" fill="#faf6e6" stroke="#3c3a2c" stroke-width="0.8"/>
<line x1="386.67" y1="38" x2="386.67" y2="61" stroke="#3c3a2c" stroke-width="0.9"/>
<rect x="385.57" y="49.40" width="2.2" height="9.20" fill="#faf6e6" stroke="#3c3a2c" stroke-width="0.8"/>
<line x1="389.33" y1="35" x2="389.33" y2="51" stroke="#3c3a2c" stroke-width="0.9"/>
<rect x="388.03" y="42" width="2.6" height="7.00" fill="#3c3a2c"/>
<line x1="392.00" y1="40" x2="392.00" y2="68" stroke="#DC143C" stroke-width="0.9"/>
<rect x="390.70" y="42" width="2.6" height="21.00" fill="#DC143C"/>
<line x1="394.67" y1="43" x2="394.67" y2="65" stroke="#3c3a2c" stroke-width="0.9"/>
<rect x="393.57" y="45.40" width="2.2" height="17.20" fill="#faf6e6" stroke="#3c3a2c" stroke-width="0.8"/>
<line x1="397.33" y1="40" x2="397.33" y2="60" stroke="#3c3a2c" stroke-width="0.9"/>
<rect x="396.03" y="42.5" width="2.6" height="2.50" fill="#3c3a2c"/>
<line x1="400.00" y1="32" x2="400.00" y2="45" stroke="#3c3a2c" stroke-width="0.9"/>
<rect x="398.90" y="37.40" width="2.2" height="4.70" fill="#faf6e6" stroke="#3c3a2c" stroke-width="0.8"/>
<line x1="402.67" y1="35" x2="402.67" y2="63" stroke="#DC143C" stroke-width="0.9"/>
<rect x="401.37" y="37" width="2.6" height="11.50" fill="#DC143C"/>
<line x1="405.33" y1="46" x2="405.33" y2="71" stroke="#DC143C" stroke-width="0.9"/>
<rect x="404.03" y="48.5" width="2.6" height="8.50" fill="#DC143C"/>
<line x1="408.00" y1="50" x2="408.00" y2="64" stroke="#3c3a2c" stroke-width="0.9"/>
<rect x="406.90" y="52.40" width="2.2" height="4.20" fill="#faf6e6" stroke="#3c3a2c" stroke-width="0.8"/>
<line x1="410.67" y1="32" x2="410.67" y2="61" stroke="#3c3a2c" stroke-width="0.9"/>
<rect x="409.57" y="35.40" width="2.2" height="16.20" fill="#faf6e6" stroke="#3c3a2c" stroke-width="0.8"/>
<line x1="413.33" y1="23" x2="413.33" y2="60" stroke="#DC143C" stroke-width="0.9"/>
<rect x="412.03" y="35" width="2.6" height="22.00" fill="#DC143C"/>
<line x1="416.00" y1="42" x2="416.00" y2="71" stroke="#3c3a2c" stroke-width="0.9"/>
<rect x="414.90" y="44.40" width="2.2" height="12.20" fill="#faf6e6" stroke="#3c3a2c" stroke-width="0.8"/>
<line x1="418.67" y1="30" x2="418.67" y2="50" stroke="#3c3a2c" stroke-width="0.9"/>
<rect x="417.57" y="39.40" width="2.2" height="6.20" fill="#faf6e6" stroke="#3c3a2c" stroke-width="0.8"/>
<line x1="421.34" y1="36" x2="421.34" y2="73" stroke="#DC143C" stroke-width="0.9"/>
<rect x="420.04" y="37" width="2.6" height="29.00" fill="#DC143C"/>
<line x1="424.00" y1="48" x2="424.00" y2="68" stroke="#3c3a2c" stroke-width="0.9"/>
<rect x="422.90" y="53.40" width="2.2" height="8.20" fill="#faf6e6" stroke="#3c3a2c" stroke-width="0.8"/>
<line x1="426.67" y1="47" x2="426.67" y2="58" stroke="#DC143C" stroke-width="0.9"/>
<rect x="425.37" y="50" width="2.6" height="6.00" fill="#DC143C"/>
<line x1="429.34" y1="52" x2="429.34" y2="78" stroke="#DC143C" stroke-width="0.9"/>
<rect x="428.04" y="53" width="2.6" height="22.00" fill="#DC143C"/>
<line x1="432.00" y1="72" x2="432.00" y2="90" stroke="#DC143C" stroke-width="0.9"/>
<rect x="430.70" y="75" width="2.6" height="11.00" fill="#DC143C"/>
<line x1="434.67" y1="84" x2="434.67" y2="116" stroke="#DC143C" stroke-width="0.9"/>
<rect x="433.37" y="86" width="2.6" height="11.00" fill="#DC143C"/>
<line x1="437.34" y1="78" x2="437.34" y2="101" stroke="#3c3a2c" stroke-width="0.9"/>
<rect x="436.04" y="91.5" width="2.6" height="1.50" fill="#3c3a2c"/>
<line x1="440.00" y1="86" x2="440.00" y2="111" stroke="#DC143C" stroke-width="0.9"/>
<rect x="438.70" y="93" width="2.6" height="7.00" fill="#DC143C"/>
<line x1="442.67" y1="79" x2="442.67" y2="107" stroke="#3c3a2c" stroke-width="0.9"/>
<rect x="441.57" y="80.90" width="2.2" height="18.70" fill="#faf6e6" stroke="#3c3a2c" stroke-width="0.8"/>
<line x1="445.34" y1="56" x2="445.34" y2="82" stroke="#3c3a2c" stroke-width="0.9"/>
<rect x="444.24" y="61.40" width="2.2" height="18.70" fill="#faf6e6" stroke="#3c3a2c" stroke-width="0.8"/>
<line x1="448.00" y1="58" x2="448.00" y2="66" stroke="#DC143C" stroke-width="0.9"/>
<rect x="446.70" y="61" width="2.6" height="3.00" fill="#DC143C"/>
<line x1="450.67" y1="63" x2="450.67" y2="91" stroke="#DC143C" stroke-width="0.9"/>
<rect x="449.37" y="65" width="2.6" height="18.00" fill="#DC143C"/>
<line x1="453.34" y1="81" x2="453.34" y2="95" stroke="#DC143C" stroke-width="0.9"/>
<rect x="452.04" y="83" width="2.6" height="3.00" fill="#DC143C"/>
<line x1="456.00" y1="80" x2="456.00" y2="107" stroke="#DC143C" stroke-width="0.9"/>
<rect x="454.70" y="86" width="2.6" height="19.00" fill="#DC143C"/>
<line x1="458.67" y1="100" x2="458.67" y2="126" stroke="#DC143C" stroke-width="0.9"/>
<rect x="457.37" y="105" width="2.6" height="19.75" fill="#DC143C"/>
<line x1="461.34" y1="119.5" x2="461.34" y2="133" stroke="#3c3a2c" stroke-width="0.9"/>
<rect x="460.04" y="122.5" width="2.6" height="1.50" fill="#3c3a2c"/>
<line x1="464.00" y1="121" x2="464.00" y2="170" stroke="#DC143C" stroke-width="0.9"/>
<rect x="462.70" y="122.5" width="2.6" height="39.50" fill="#DC143C"/>
<line x1="466.67" y1="157" x2="466.67" y2="188" stroke="#DC143C" stroke-width="0.9"/>
<rect x="465.37" y="162" width="2.6" height="16.50" fill="#DC143C"/>
<line x1="469.34" y1="162" x2="469.34" y2="216" stroke="#DC143C" stroke-width="0.9"/>
<rect x="468.04" y="178.5" width="2.6" height="21.00" fill="#DC143C"/>
<line x1="472.00" y1="175.5" x2="472.00" y2="213" stroke="#3c3a2c" stroke-width="0.9"/>
<rect x="470.90" y="184.90" width="2.2" height="14.20" fill="#faf6e6" stroke="#3c3a2c" stroke-width="0.8"/>
<line x1="474.67" y1="162.8" x2="474.67" y2="190" stroke="#3c3a2c" stroke-width="0.9"/>
<rect x="473.57" y="178.40" width="2.2" height="5.70" fill="#faf6e6" stroke="#3c3a2c" stroke-width="0.8"/>
<line x1="477.34" y1="176" x2="477.34" y2="205" stroke="#DC143C" stroke-width="0.9"/>
<rect x="476.04" y="177.5" width="2.6" height="20.50" fill="#DC143C"/>
<line x1="480.00" y1="181.5" x2="480.00" y2="213" stroke="#3c3a2c" stroke-width="0.9"/>
<rect x="478.90" y="193.90" width="2.2" height="5.20" fill="#faf6e6" stroke="#3c3a2c" stroke-width="0.8"/>
<line x1="482.67" y1="190" x2="482.67" y2="220.6" stroke="#DC143C" stroke-width="0.9"/>
<rect x="481.37" y="196.5" width="2.6" height="18.00" fill="#DC143C"/>
<line x1="485.34" y1="212" x2="485.34" y2="229.6" stroke="#DC143C" stroke-width="0.9"/>
<rect x="484.04" y="216" width="2.6" height="7.60" fill="#DC143C"/>
<line x1="488.00" y1="203" x2="488.00" y2="223.6" stroke="#3c3a2c" stroke-width="0.9"/>
<rect x="486.90" y="207.40" width="2.2" height="11.20" fill="#faf6e6" stroke="#3c3a2c" stroke-width="0.8"/>
<line x1="490.67" y1="185" x2="490.67" y2="212" stroke="#3c3a2c" stroke-width="0.9"/>
<rect x="489.57" y="188.40" width="2.2" height="18.20" fill="#faf6e6" stroke="#3c3a2c" stroke-width="0.8"/>
<line x1="493.34" y1="176" x2="493.34" y2="209" stroke="#DC143C" stroke-width="0.9"/>
<rect x="492.04" y="188" width="2.6" height="19.00" fill="#DC143C"/>
<line x1="496.00" y1="190" x2="496.00" y2="210" stroke="#3c3a2c" stroke-width="0.9"/>
<rect x="494.90" y="192.40" width="2.2" height="10.20" fill="#faf6e6" stroke="#3c3a2c" stroke-width="0.8"/>
<line x1="498.67" y1="198" x2="498.67" y2="220" stroke="#DC143C" stroke-width="0.9"/>
<rect x="497.37" y="203" width="2.6" height="14.00" fill="#DC143C"/>
<line x1="501.34" y1="188" x2="501.34" y2="220" stroke="#3c3a2c" stroke-width="0.9"/>
<rect x="500.24" y="190.40" width="2.2" height="26.20" fill="#faf6e6" stroke="#3c3a2c" stroke-width="0.8"/>
<line x1="504.00" y1="182" x2="504.00" y2="197" stroke="#DC143C" stroke-width="0.9"/>
<rect x="502.70" y="190" width="2.6" height="5.00" fill="#DC143C"/>
<line x1="506.67" y1="182" x2="506.67" y2="197" stroke="#3c3a2c" stroke-width="0.9"/>
<rect x="505.57" y="187.40" width="2.2" height="5.20" fill="#faf6e6" stroke="#3c3a2c" stroke-width="0.8"/>
<line x1="509.34" y1="188" x2="509.34" y2="228" stroke="#DC143C" stroke-width="0.9"/>
<rect x="508.04" y="191" width="2.6" height="35.00" fill="#DC143C"/>
<line x1="512.00" y1="220" x2="512.00" y2="268" stroke="#DC143C" stroke-width="0.9"/>
<rect x="510.70" y="225" width="2.6" height="39.00" fill="#DC143C"/>
<line x1="514.67" y1="239" x2="514.67" y2="276" stroke="#3c3a2c" stroke-width="0.9"/>
<rect x="513.57" y="257.40" width="2.2" height="6.20" fill="#faf6e6" stroke="#3c3a2c" stroke-width="0.8"/>
<line x1="517.34" y1="241" x2="517.34" y2="271" stroke="#3c3a2c" stroke-width="0.9"/>
<rect x="516.04" y="253" width="2.6" height="2.00" fill="#3c3a2c"/>
<line x1="520.00" y1="213" x2="520.00" y2="261" stroke="#3c3a2c" stroke-width="0.9"/>
<rect x="518.90" y="221.40" width="2.2" height="37.20" fill="#faf6e6" stroke="#3c3a2c" stroke-width="0.8"/>
<line x1="522.67" y1="217" x2="522.67" y2="232" stroke="#DC143C" stroke-width="0.9"/>
<rect x="521.37" y="223" width="2.6" height="6.00" fill="#DC143C"/>
<line x1="525.34" y1="227" x2="525.34" y2="266" stroke="#DC143C" stroke-width="0.9"/>
<rect x="524.04" y="229" width="2.6" height="31.00" fill="#DC143C"/>
<line x1="528.00" y1="233" x2="528.00" y2="261" stroke="#3c3a2c" stroke-width="0.9"/>
<rect x="526.90" y="240.40" width="2.2" height="18.20" fill="#faf6e6" stroke="#3c3a2c" stroke-width="0.8"/>
<line x1="530.67" y1="233" x2="530.67" y2="255" stroke="#DC143C" stroke-width="0.9"/>
<rect x="529.37" y="242" width="2.6" height="11.00" fill="#DC143C"/>
<line x1="533.34" y1="249" x2="533.34" y2="275" stroke="#DC143C" stroke-width="0.9"/>
<rect x="532.04" y="251" width="2.6" height="21.00" fill="#DC143C"/>
<line x1="536.00" y1="267" x2="536.00" y2="328" stroke="#DC143C" stroke-width="0.9"/>
<rect x="534.70" y="272" width="2.6" height="50.00" fill="#DC143C"/>
<line x1="538.67" y1="291" x2="538.67" y2="333" stroke="#3c3a2c" stroke-width="0.9"/>
<rect x="537.57" y="316.90" width="2.2" height="4.70" fill="#faf6e6" stroke="#3c3a2c" stroke-width="0.8"/>
<line x1="541.34" y1="312" x2="541.34" y2="336" stroke="#DC143C" stroke-width="0.9"/>
<rect x="540.04" y="315" width="2.6" height="12.00" fill="#DC143C"/>
<line x1="544.00" y1="283" x2="544.00" y2="331" stroke="#3c3a2c" stroke-width="0.9"/>
<rect x="542.90" y="305.90" width="2.2" height="18.70" fill="#faf6e6" stroke="#3c3a2c" stroke-width="0.8"/>
<line x1="546.67" y1="302" x2="546.67" y2="335" stroke="#DC143C" stroke-width="0.9"/>
<rect x="545.37" y="306" width="2.6" height="16.00" fill="#DC143C"/>
<line x1="549.34" y1="305" x2="549.34" y2="331" stroke="#3c3a2c" stroke-width="0.9"/>
<rect x="548.24" y="308.40" width="2.2" height="13.20" fill="#faf6e6" stroke="#3c3a2c" stroke-width="0.8"/>
<line x1="552.00" y1="306" x2="552.00" y2="342" stroke="#3c3a2c" stroke-width="0.9"/>
<rect x="550.90" y="309.40" width="2.2" height="9.20" fill="#faf6e6" stroke="#3c3a2c" stroke-width="0.8"/>
<line x1="554.67" y1="251" x2="554.67" y2="309" stroke="#3c3a2c" stroke-width="0.9"/>
<rect x="553.57" y="253.40" width="2.2" height="53.20" fill="#faf6e6" stroke="#3c3a2c" stroke-width="0.8"/>
<line x1="557.34" y1="238" x2="557.34" y2="260" stroke="#3c3a2c" stroke-width="0.9"/>
<rect x="556.24" y="242.40" width="2.2" height="10.20" fill="#faf6e6" stroke="#3c3a2c" stroke-width="0.8"/>
<line x1="560.00" y1="193" x2="560.00" y2="249" stroke="#3c3a2c" stroke-width="0.9"/>
<rect x="558.90" y="195.40" width="2.2" height="51.20" fill="#faf6e6" stroke="#3c3a2c" stroke-width="0.8"/>
<line x1="562.67" y1="192" x2="562.67" y2="227" stroke="#DC143C" stroke-width="0.9"/>
<rect x="561.37" y="194" width="2.6" height="27.00" fill="#DC143C"/>
<line x1="565.34" y1="184" x2="565.34" y2="223" stroke="#3c3a2c" stroke-width="0.9"/>
<rect x="564.24" y="185.90" width="2.2" height="33.70" fill="#faf6e6" stroke="#3c3a2c" stroke-width="0.8"/>
<line x1="568.00" y1="166" x2="568.00" y2="187" stroke="#3c3a2c" stroke-width="0.9"/>
<rect x="566.90" y="167.90" width="2.2" height="16.70" fill="#faf6e6" stroke="#3c3a2c" stroke-width="0.8"/>
<line x1="570.67" y1="160.5" x2="570.67" y2="206" stroke="#DC143C" stroke-width="0.9"/>
<rect x="569.37" y="165" width="2.6" height="39.00" fill="#DC143C"/>
<line x1="573.34" y1="183.5" x2="573.34" y2="207" stroke="#3c3a2c" stroke-width="0.9"/>
<rect x="572.24" y="197.90" width="2.2" height="7.20" fill="#faf6e6" stroke="#3c3a2c" stroke-width="0.8"/>
<line x1="576.00" y1="195" x2="576.00" y2="214" stroke="#DC143C" stroke-width="0.9"/>
<rect x="574.70" y="197" width="2.6" height="15.00" fill="#DC143C"/>
<line x1="578.67" y1="205" x2="578.67" y2="248" stroke="#DC143C" stroke-width="0.9"/>
<rect x="577.37" y="208" width="2.6" height="34.00" fill="#DC143C"/>
<line x1="581.34" y1="236" x2="581.34" y2="254" stroke="#3c3a2c" stroke-width="0.9"/>
<rect x="580.24" y="238.40" width="2.2" height="5.20" fill="#faf6e6" stroke="#3c3a2c" stroke-width="0.8"/>
<line x1="584.00" y1="210" x2="584.00" y2="238" stroke="#3c3a2c" stroke-width="0.9"/>
<rect x="582.90" y="216.40" width="2.2" height="19.20" fill="#faf6e6" stroke="#3c3a2c" stroke-width="0.8"/>
<line x1="586.67" y1="203" x2="586.67" y2="228" stroke="#DC143C" stroke-width="0.9"/>
<rect x="585.37" y="218" width="2.6" height="8.00" fill="#DC143C"/>
<line x1="589.34" y1="217" x2="589.34" y2="239" stroke="#3c3a2c" stroke-width="0.9"/>
<rect x="588.24" y="225.40" width="2.2" height="2.20" fill="#faf6e6" stroke="#3c3a2c" stroke-width="0.8"/>
<line x1="592.00" y1="208" x2="592.00" y2="235" stroke="#DC143C" stroke-width="0.9"/>
<rect x="590.70" y="225" width="2.6" height="5.00" fill="#DC143C"/>
<line x1="594.67" y1="218.5" x2="594.67" y2="240" stroke="#3c3a2c" stroke-width="0.9"/>
<rect x="593.37" y="228.5" width="2.6" height="1.50" fill="#3c3a2c"/>
<line x1="597.34" y1="217" x2="597.34" y2="237" stroke="#DC143C" stroke-width="0.9"/>
<rect x="596.04" y="231" width="2.6" height="4.00" fill="#DC143C"/>
<line x1="600.00" y1="223" x2="600.00" y2="243" stroke="#3c3a2c" stroke-width="0.9"/>
<rect x="598.90" y="225.40" width="2.2" height="12.20" fill="#faf6e6" stroke="#3c3a2c" stroke-width="0.8"/>
<line x1="602.67" y1="209" x2="602.67" y2="230" stroke="#3c3a2c" stroke-width="0.9"/>
<rect x="601.57" y="211.40" width="2.2" height="16.20" fill="#faf6e6" stroke="#3c3a2c" stroke-width="0.8"/>
<line x1="605.34" y1="205" x2="605.34" y2="227" stroke="#DC143C" stroke-width="0.9"/>
<rect x="604.04" y="211" width="2.6" height="14.00" fill="#DC143C"/>
<line x1="608.00" y1="217" x2="608.00" y2="236" stroke="#DC143C" stroke-width="0.9"/>
<rect x="606.70" y="226" width="2.6" height="8.00" fill="#DC143C"/>
<line x1="610.67" y1="229" x2="610.67" y2="238" stroke="#DC143C" stroke-width="0.9"/>
<rect x="609.37" y="232" width="2.6" height="3.00" fill="#DC143C"/>
<line x1="613.34" y1="226" x2="613.34" y2="246" stroke="#3c3a2c" stroke-width="0.9"/>
<rect x="612.24" y="228.40" width="2.2" height="6.20" fill="#faf6e6" stroke="#3c3a2c" stroke-width="0.8"/>
<line x1="616.00" y1="214" x2="616.00" y2="229" stroke="#3c3a2c" stroke-width="0.9"/>
<rect x="614.70" y="225" width="2.6" height="1.50" fill="#3c3a2c"/>
<line x1="618.67" y1="224" x2="618.67" y2="250" stroke="#DC143C" stroke-width="0.9"/>
<rect x="617.37" y="225" width="2.6" height="23.00" fill="#DC143C"/>
<line x1="621.34" y1="240" x2="621.34" y2="251" stroke="#3c3a2c" stroke-width="0.9"/>
<rect x="620.24" y="244.90" width="2.2" height="3.70" fill="#faf6e6" stroke="#3c3a2c" stroke-width="0.8"/>
<line x1="624.00" y1="234" x2="624.00" y2="246" stroke="#3c3a2c" stroke-width="0.9"/>
<rect x="622.70" y="240" width="2.6" height="2.50" fill="#3c3a2c"/>
<line x1="626.67" y1="237" x2="626.67" y2="244" stroke="#3c3a2c" stroke-width="0.9"/>
<rect x="625.37" y="240.5" width="2.6" height="1.50" fill="#3c3a2c"/>
<line x1="629.34" y1="238" x2="629.34" y2="247" stroke="#DC143C" stroke-width="0.9"/>
<rect x="628.04" y="240" width="2.6" height="5.00" fill="#DC143C"/>
<line x1="632.00" y1="237" x2="632.00" y2="256" stroke="#DC143C" stroke-width="0.9"/>
<rect x="630.70" y="246" width="2.6" height="8.00" fill="#DC143C"/>
<line x1="634.67" y1="252" x2="634.67" y2="283" stroke="#DC143C" stroke-width="0.9"/>
<rect x="633.37" y="254" width="2.6" height="26.00" fill="#DC143C"/>
<line x1="637.34" y1="273" x2="637.34" y2="295.4" stroke="#DC143C" stroke-width="0.9"/>
<rect x="636.04" y="281" width="2.6" height="1.70" fill="#DC143C"/>
<line x1="640.00" y1="261" x2="640.00" y2="284" stroke="#3c3a2c" stroke-width="0.9"/>
<rect x="638.90" y="279.80" width="2.2" height="2.30" fill="#faf6e6" stroke="#3c3a2c" stroke-width="0.8"/>
<line x1="642.67" y1="268" x2="642.67" y2="287" stroke="#3c3a2c" stroke-width="0.9"/>
<rect x="641.57" y="275.10" width="2.2" height="4.50" fill="#faf6e6" stroke="#3c3a2c" stroke-width="0.8"/>
<line x1="645.34" y1="257" x2="645.34" y2="277" stroke="#3c3a2c" stroke-width="0.9"/>
<rect x="644.24" y="259.40" width="2.2" height="15.20" fill="#faf6e6" stroke="#3c3a2c" stroke-width="0.8"/>
<line x1="648.00" y1="247" x2="648.00" y2="272" stroke="#3c3a2c" stroke-width="0.9"/>
<rect x="646.90" y="249.40" width="2.2" height="10.20" fill="#faf6e6" stroke="#3c3a2c" stroke-width="0.8"/>
<line x1="650.67" y1="238" x2="650.67" y2="256" stroke="#DC143C" stroke-width="0.9"/>
<rect x="649.37" y="250" width="2.6" height="1.00" fill="#DC143C"/>
<line x1="653.34" y1="241" x2="653.34" y2="257" stroke="#3c3a2c" stroke-width="0.9"/>
<rect x="652.24" y="250.40" width="2.2" height="2.20" fill="#faf6e6" stroke="#3c3a2c" stroke-width="0.8"/>
<line x1="656.00" y1="245" x2="656.00" y2="266" stroke="#DC143C" stroke-width="0.9"/>
<rect x="654.70" y="249" width="2.6" height="15.00" fill="#DC143C"/>
<line x1="658.67" y1="262" x2="658.67" y2="275" stroke="#3c3a2c" stroke-width="0.9"/>
<rect x="657.37" y="263" width="2.6" height="1.50" fill="#3c3a2c"/>
<line x1="661.34" y1="225" x2="661.34" y2="262" stroke="#3c3a2c" stroke-width="0.9"/>
<rect x="660.24" y="227.40" width="2.2" height="32.20" fill="#faf6e6" stroke="#3c3a2c" stroke-width="0.8"/>
<line x1="664.00" y1="221" x2="664.00" y2="234" stroke="#3c3a2c" stroke-width="0.9"/>
<rect x="662.90" y="222.40" width="2.2" height="5.20" fill="#faf6e6" stroke="#3c3a2c" stroke-width="0.8"/>
<line x1="666.67" y1="192.5" x2="666.67" y2="228" stroke="#3c3a2c" stroke-width="0.9"/>
<rect x="665.57" y="199.90" width="2.2" height="25.70" fill="#faf6e6" stroke="#3c3a2c" stroke-width="0.8"/>
<line x1="669.34" y1="194" x2="669.34" y2="222" stroke="#DC143C" stroke-width="0.9"/>
<rect x="668.04" y="197.5" width="2.6" height="22.50" fill="#DC143C"/>
<line x1="672.00" y1="204" x2="672.00" y2="224" stroke="#3c3a2c" stroke-width="0.9"/>
<rect x="670.90" y="205.90" width="2.2" height="15.70" fill="#faf6e6" stroke="#3c3a2c" stroke-width="0.8"/>
<line x1="674.67" y1="205" x2="674.67" y2="218" stroke="#DC143C" stroke-width="0.9"/>
<rect x="673.37" y="207" width="2.6" height="3.00" fill="#DC143C"/>
<line x1="677.34" y1="187" x2="677.34" y2="212" stroke="#3c3a2c" stroke-width="0.9"/>
<rect x="676.24" y="189.40" width="2.2" height="20.20" fill="#faf6e6" stroke="#3c3a2c" stroke-width="0.8"/>
<line x1="680.01" y1="186" x2="680.01" y2="195" stroke="#DC143C" stroke-width="0.9"/>
<rect x="678.71" y="188" width="2.6" height="5.00" fill="#DC143C"/>
<line x1="682.67" y1="176" x2="682.67" y2="211" stroke="#DC143C" stroke-width="0.9"/>
<rect x="681.37" y="190" width="2.6" height="19.00" fill="#DC143C"/>
<line x1="685.34" y1="178" x2="685.34" y2="280" stroke="#DC143C" stroke-width="0.9"/>
<rect x="684.04" y="204" width="2.6" height="30.00" fill="#DC143C"/>
<line x1="688.01" y1="161" x2="688.01" y2="237" stroke="#3c3a2c" stroke-width="0.9"/>
<rect x="686.91" y="172.40" width="2.2" height="62.20" fill="#faf6e6" stroke="#3c3a2c" stroke-width="0.8"/>
<line x1="690.67" y1="152" x2="690.67" y2="179" stroke="#3c3a2c" stroke-width="0.9"/>
<rect x="689.57" y="167.40" width="2.2" height="4.20" fill="#faf6e6" stroke="#3c3a2c" stroke-width="0.8"/>
<line x1="693.34" y1="150" x2="693.34" y2="184" stroke="#3c3a2c" stroke-width="0.9"/>
<rect x="692.24" y="156.40" width="2.2" height="10.20" fill="#faf6e6" stroke="#3c3a2c" stroke-width="0.8"/>
<line x1="696.01" y1="119" x2="696.01" y2="161" stroke="#3c3a2c" stroke-width="0.9"/>
<rect x="694.91" y="126.70" width="2.2" height="28.90" fill="#faf6e6" stroke="#3c3a2c" stroke-width="0.8"/>
<line x1="698.67" y1="115" x2="698.67" y2="142" stroke="#3c3a2c" stroke-width="0.9"/>
<rect x="697.37" y="125" width="2.6" height="2.00" fill="#3c3a2c"/>
<line x1="701.34" y1="120" x2="701.34" y2="150" stroke="#DC143C" stroke-width="0.9"/>
<rect x="700.04" y="122.5" width="2.6" height="15.00" fill="#DC143C"/>
<line x1="704.01" y1="127.8" x2="704.01" y2="149" stroke="#DC143C" stroke-width="0.9"/>
<rect x="702.71" y="137" width="2.6" height="6.00" fill="#DC143C"/>
<line x1="706.67" y1="126" x2="706.67" y2="167" stroke="#DC143C" stroke-width="0.9"/>
<rect x="705.37" y="142" width="2.6" height="20.00" fill="#DC143C"/>
<line x1="709.34" y1="144" x2="709.34" y2="161" stroke="#3c3a2c" stroke-width="0.9"/>
<rect x="708.24" y="153.40" width="2.2" height="2.20" fill="#faf6e6" stroke="#3c3a2c" stroke-width="0.8"/>
<line x1="712.01" y1="139" x2="712.01" y2="165" stroke="#DC143C" stroke-width="0.9"/>
<rect x="710.71" y="146" width="2.6" height="16.00" fill="#DC143C"/>
<line x1="714.67" y1="153" x2="714.67" y2="186" stroke="#DC143C" stroke-width="0.9"/>
<rect x="713.37" y="162" width="2.6" height="22.00" fill="#DC143C"/>
<line x1="717.34" y1="162" x2="717.34" y2="186" stroke="#3c3a2c" stroke-width="0.9"/>
<rect x="716.24" y="167.40" width="2.2" height="12.20" fill="#faf6e6" stroke="#3c3a2c" stroke-width="0.8"/>
<line x1="720.01" y1="152" x2="720.01" y2="170" stroke="#3c3a2c" stroke-width="0.9"/>
<rect x="718.91" y="154.40" width="2.2" height="12.20" fill="#faf6e6" stroke="#3c3a2c" stroke-width="0.8"/>
<line x1="722.67" y1="138" x2="722.67" y2="156" stroke="#3c3a2c" stroke-width="0.9"/>
<rect x="721.57" y="142.40" width="2.2" height="11.20" fill="#faf6e6" stroke="#3c3a2c" stroke-width="0.8"/>
<line x1="725.34" y1="139" x2="725.34" y2="175" stroke="#DC143C" stroke-width="0.9"/>
<rect x="724.04" y="142" width="2.6" height="30.00" fill="#DC143C"/>
<line x1="728.01" y1="166" x2="728.01" y2="178" stroke="#3c3a2c" stroke-width="0.9"/>
<rect x="726.91" y="169.40" width="2.2" height="2.20" fill="#faf6e6" stroke="#3c3a2c" stroke-width="0.8"/>
<line x1="730.67" y1="163.8" x2="730.67" y2="184" stroke="#DC143C" stroke-width="0.9"/>
<rect x="729.37" y="168.7" width="2.6" height="13.30" fill="#DC143C"/>
<line x1="733.34" y1="180" x2="733.34" y2="202.8" stroke="#DC143C" stroke-width="0.9"/>
<rect x="732.04" y="182" width="2.6" height="16.80" fill="#DC143C"/>
<line x1="736.01" y1="171.7" x2="736.01" y2="200.8" stroke="#3c3a2c" stroke-width="0.9"/>
<rect x="734.91" y="185.40" width="2.2" height="14.00" fill="#faf6e6" stroke="#3c3a2c" stroke-width="0.8"/>
<line x1="738.67" y1="163.8" x2="738.67" y2="190" stroke="#3c3a2c" stroke-width="0.9"/>
<rect x="737.57" y="179.40" width="2.2" height="6.20" fill="#faf6e6" stroke="#3c3a2c" stroke-width="0.8"/>
<line x1="741.34" y1="175.7" x2="741.34" y2="197.8" stroke="#3c3a2c" stroke-width="0.9"/>
<rect x="740.24" y="177.40" width="2.2" height="2.20" fill="#faf6e6" stroke="#3c3a2c" stroke-width="0.8"/>
<line x1="744.01" y1="176" x2="744.01" y2="192.8" stroke="#DC143C" stroke-width="0.9"/>
<rect x="742.71" y="178" width="2.6" height="9.00" fill="#DC143C"/>
<line x1="746.67" y1="158" x2="746.67" y2="189" stroke="#3c3a2c" stroke-width="0.9"/>
<rect x="745.57" y="159.20" width="2.2" height="28.40" fill="#faf6e6" stroke="#3c3a2c" stroke-width="0.8"/>
<line x1="749.34" y1="137.9" x2="749.34" y2="165" stroke="#3c3a2c" stroke-width="0.9"/>
<rect x="748.24" y="146.80" width="2.2" height="11.60" fill="#faf6e6" stroke="#3c3a2c" stroke-width="0.8"/>
<line x1="752.01" y1="132.5" x2="752.01" y2="166" stroke="#DC143C" stroke-width="0.9"/>
<rect x="750.71" y="145.9" width="2.6" height="17.90" fill="#DC143C"/>
<line x1="754.67" y1="158.8" x2="754.67" y2="183" stroke="#DC143C" stroke-width="0.9"/>
<rect x="753.37" y="162.8" width="2.6" height="18.20" fill="#DC143C"/>
<line x1="757.34" y1="169.7" x2="757.34" y2="206" stroke="#DC143C" stroke-width="0.9"/>
<rect x="756.04" y="181" width="2.6" height="23.80" fill="#DC143C"/>
<line x1="760.01" y1="199.8" x2="760.01" y2="218" stroke="#DC143C" stroke-width="0.9"/>
<rect x="758.71" y="204.8" width="2.6" height="11.10" fill="#DC143C"/>
<line x1="762.67" y1="208" x2="762.67" y2="235" stroke="#DC143C" stroke-width="0.9"/>
<rect x="761.37" y="215.9" width="2.6" height="17.90" fill="#DC143C"/>
<line x1="765.34" y1="218.4" x2="765.34" y2="246.7" stroke="#3c3a2c" stroke-width="0.9"/>
<rect x="764.24" y="227.20" width="2.2" height="6.20" fill="#faf6e6" stroke="#3c3a2c" stroke-width="0.8"/>
<line x1="768.01" y1="212" x2="768.01" y2="238.7" stroke="#3c3a2c" stroke-width="0.9"/>
<rect x="766.71" y="225.4" width="2.6" height="1.60" fill="#3c3a2c"/>
<rect x="768.0" y="200.2" width="4.7" height="41.3" fill="#eeee1c" opacity="0.82"/>
<line x1="768.7" y1="212" x2="768.7" y2="239" stroke="#7a7a30" stroke-width="1.2"/>
<rect x="769.4" y="208.4" width="2.3" height="17" fill="#e8e890" stroke="#3c3a2c" stroke-width="0.7"/>
<line x1="774.6" y1="19.5" x2="774.6" y2="521.5" stroke="#d8c8b8" stroke-width="1"/>
<path d="M773.5 208.40 L776 204.20 L799.5 204.20 L799.5 212.60 L776 212.60 Z" fill="#fff" stroke="#111" stroke-width="0.8"/>
<text x="776.5" y="211.10" font-size="7.6" font-weight="bold" textLength="21.5" lengthAdjust="spacingAndGlyphs" fill="#111">216.17</text>
</svg></body></html>
